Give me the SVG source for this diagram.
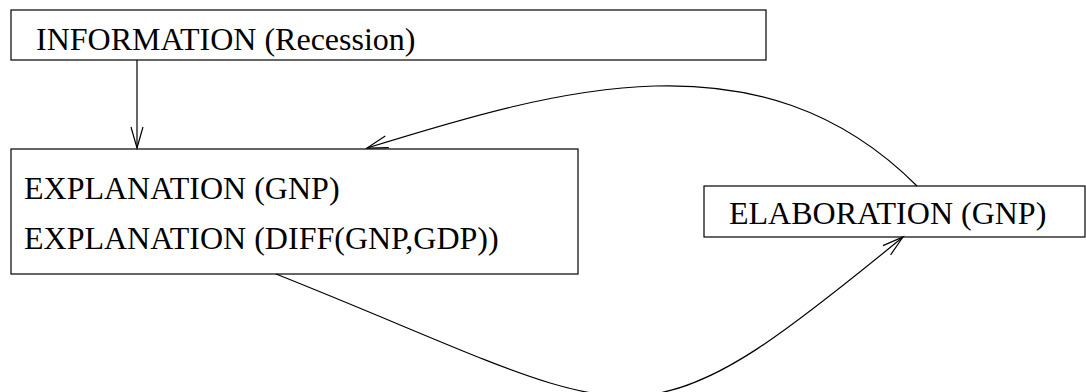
<svg xmlns="http://www.w3.org/2000/svg" width="1086" height="392" viewBox="0 0 1086 392">
  <style>
    .box { fill: #ffffff; stroke: #000000; stroke-width: 1.2; }
    .lbl { font-family: "Liberation Serif", "Times New Roman", serif; font-size: 32px; fill: #000000; }
    .edge { fill: none; stroke: #000000; stroke-width: 1.2; marker-end: url(#open); }
  </style>
  <defs>
    <marker id="open" markerUnits="userSpaceOnUse" markerWidth="30" markerHeight="20" viewBox="-24 -10 30 20" refX="0" refY="0" orient="auto" overflow="visible">
      <path d="M-21,-6 L0,0 L-21,6" fill="none" stroke="#000000" stroke-width="1.2"/>
    </marker>
  </defs>

  <rect width="1086" height="392" fill="#ffffff"/>

  <g id="information">
    <rect class="box" x="11" y="10" width="755" height="50"/>
    <text class="lbl" x="36" y="50">INFORMATION (Recession)</text>
  </g>

  <g id="explanation">
    <rect class="box" x="11" y="149" width="567" height="125"/>
    <text class="lbl" x="24" y="199">EXPLANATION (GNP)</text>
    <text class="lbl" x="24" y="249">EXPLANATION (DIFF(GNP,GDP))</text>
  </g>

  <g id="elaboration">
    <rect class="box" x="704" y="186" width="381" height="51"/>
    <text class="lbl" x="729" y="224">ELABORATION (GNP)</text>
  </g>

  <g id="connectors">
    <path class="edge" d="M137,60 L137,148"/>
    <path class="edge" d="M917,186 C760,29 558,89 367,148"/>
    <path class="edge" d="M276,274 C648,422 626,464 903,237"/>
  </g>
</svg>
